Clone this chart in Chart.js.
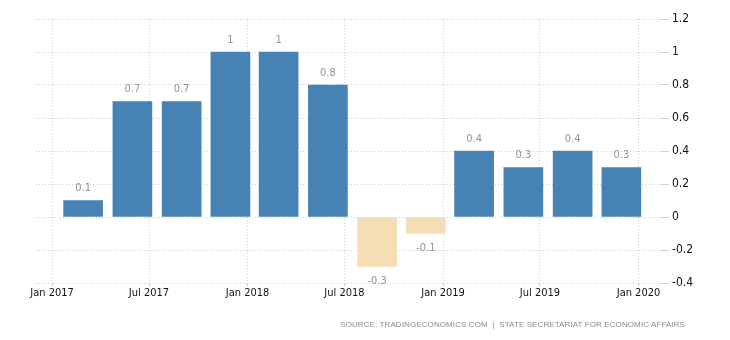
<!DOCTYPE html>
<html>
<head>
<meta charset="utf-8">
<script src="https://cdn.jsdelivr.net/npm/chart.js@4"></script>
<style>
  html, body { margin: 0; padding: 0; background: #fff; }
  #wrap { position: relative; width: 730px; height: 340px; }
  #source {
    position: absolute; right: 45px; top: 320px;
    font: 8px "Liberation Sans", sans-serif; letter-spacing: 0.1px;
    color: #8a8a8a; white-space: pre;
  }
</style>
</head>
<body>
<div id="wrap">
  <canvas id="chart" width="730" height="340"></canvas>
  <div id="source">SOURCE: TRADINGECONOMICS.COM  |  STATE SECRETARIAT FOR ECONOMIC AFFAIRS</div>
</div>
<script>
// quarterly growth, Q1 2017 .. Q4 2019 (bars sit mid-quarter)
const periods = ['2017-02-28', '2017-05-31', '2017-08-31', '2017-11-30',
                 '2018-02-28', '2018-05-31', '2018-08-31', '2018-11-30',
                 '2019-02-28', '2019-05-31', '2019-08-31', '2019-11-30'];
const values = [0.1, 0.7, 0.7, 1, 1, 0.8, -0.3, -0.1, 0.4, 0.3, 0.4, 0.3];
const tickDates = ['2017-01-01', '2017-07-01', '2018-01-01', '2018-07-01', '2019-01-01', '2019-07-01', '2020-01-01'];
const tickLabels = ['Jan 2017', 'Jul 2017', 'Jan 2018', 'Jul 2018', 'Jan 2019', 'Jul 2019', 'Jan 2020'];

const FONT = '"DejaVu Sans Condensed", "Liberation Sans", sans-serif';
const start = Date.UTC(2017, 0, 1);
function dayOf(s) {
    const p = s.split('-');
    return (Date.UTC(+p[0], +p[1] - 1, +p[2]) - start) / 86400000;
}
const points = periods.map((d, i) => ({ x: dayOf(d), y: values[i] }));
const tickDays = tickDates.map(dayOf);

// value labels above / below each bar
const valueLabels = {
    id: 'valueLabels',
    afterDatasetsDraw(chart) {
        const ctx = chart.ctx;
        const meta = chart.getDatasetMeta(0);
        ctx.save();
        ctx.font = '11px ' + FONT;
        ctx.fillStyle = '#939393';
        ctx.textAlign = 'center';
        ctx.textBaseline = 'middle';
        meta.data.forEach((bar, i) => {
            const v = values[i];
            const y = v >= 0 ? bar.y - 12 : bar.y + 15;
            ctx.fillText(String(v), bar.x, y);
        });
        ctx.restore();
    }
};

const grid = {
    color: '#cfcfcf',
    lineWidth: 1,
    tickLength: 8,
    tickColor: '#cfcfcf',
    offset: false
};

new Chart(document.getElementById('chart').getContext('2d'), {
    type: 'bar',
    data: {
        datasets: [{
            data: points,
            backgroundColor: values.map(v => v < 0 ? '#F5DEB3' : '#4682B4'),
            barThickness: 39,
            borderWidth: 0
        }]
    },
    options: {
        responsive: false,
        animation: false,
        layout: { padding: { left: 36, top: 19, right: 0, bottom: 0 } },
        plugins: {
            legend: { display: false },
            tooltip: { enabled: false }
        },
        scales: {
            x: {
                type: 'linear',
                offset: false,
                min: -30,
                max: 1137,
                border: { display: false, dash: [1, 2] },
                grid: Object.assign({}, grid, { tickLength: 3 }),
                afterBuildTicks(scale) {
                    scale.ticks = tickDays.map(v => ({ value: v }));
                },
                afterFit(scale) { scale.height = 57; },
                ticks: {
                    autoSkip: false,
                    maxRotation: 0,
                    padding: 1,
                    color: '#111',
                    font: { family: FONT, size: 11 },
                    callback: (v, i) => tickLabels[i]
                }
            },
            y: {
                position: 'right',
                min: -0.4,
                max: 1.2,
                border: { display: false, dash: [1, 2] },
                grid: grid,
                afterFit(scale) { scale.width = 69; },
                ticks: {
                    stepSize: 0.2,
                    padding: 3,
                    color: '#111',
                    font: { family: FONT, size: 12 },
                    callback: v => Math.round(v * 10) / 10
                }
            }
        }
    },
    plugins: [valueLabels]
});
</script>
</body>
</html>
